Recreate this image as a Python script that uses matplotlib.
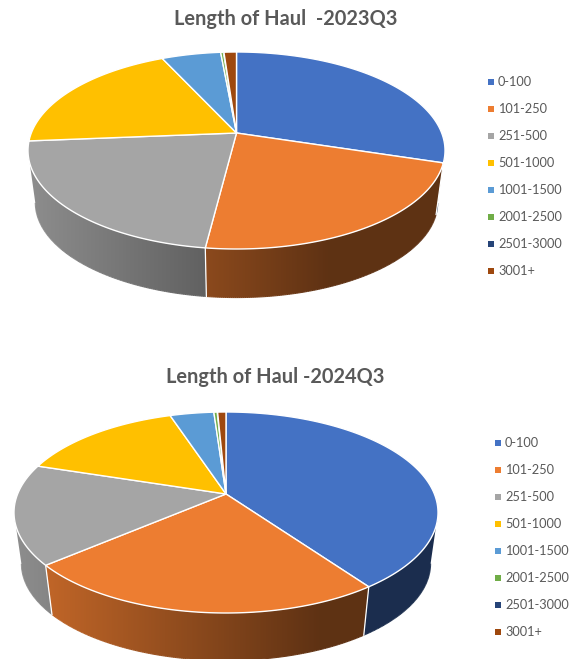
import numpy as np
import matplotlib
matplotlib.use('Agg')
import matplotlib.pyplot as plt
from matplotlib.collections import LineCollection
from matplotlib.colors import to_rgb
from matplotlib.patches import Polygon

plt.rcParams['font.family'] = ['Lato', 'DejaVu Sans']

labels = ['0-100', '101-250', '251-500', '501-1000', '1001-1500',
          '2001-2500', '2501-3000', '3001+']
colors = ['#4472c4', '#ed7d31', '#a5a5a5', '#ffc000', '#5b9bd5',
          '#70ad47', '#264478', '#9e480e']
share_2023 = [29.8, 22.2, 21.7, 19.4, 5.45, 0.25, 0.05, 1.15]
share_2024 = [40.1, 23.7, 16.1, 15.0, 4.0, 0.3, 0.04, 0.76]

W, H = 576, 659
TEXT = '#595959'


def rim(theta, cx, apex_y, a, top, front):
    # perspective view of a circle, theta runs clockwise from 12 o'clock
    back_r = apex_y - top
    front_r = front - apex_y
    k = (front_r / back_r - 1) / (front_r / back_r + 1)
    bb = back_r * (1 + k)
    aa = a * np.sqrt(1 - k ** 2)
    d = 1 + k * np.cos(theta)
    return cx + aa * np.sin(theta) / d, apex_y - bb * np.cos(theta) / d


def pie3d(ax, values, cx, apex_y, a, top, front, depth=52, shrink=0.965):
    edges = np.concatenate([[0], np.cumsum(values)]) / np.sum(values) * 2 * np.pi
    ey = (top + front) / 2
    left = cx - a

    def lower(x, y):
        return cx + (x - cx) * shrink, ey + depth + (y - ey) * shrink

    def shade(x):
        # wall gets darker towards the right, then stays flat
        return np.clip(0.86 - 0.46 * (x - left) / (0.72 * 2 * a), 0.4, 0.9)

    columns = np.arange(W) + 0.5
    for i, c in enumerate(colors):
        n = max(2, int((edges[i + 1] - edges[i]) * 120))
        th = np.linspace(edges[i], edges[i + 1], n)
        x, y = rim(th, cx, apex_y, a, top, front)
        # only the near half of the wall can be seen
        near = y >= ey
        if near.sum() < 2:
            continue
        x, y = x[near], y[near]
        xb, yb = lower(x, y)
        outline = np.vstack([np.column_stack([x, y]),
                             np.column_stack([xb, yb])[::-1]])
        grad = shade(columns)[None, :, None] * np.array(to_rgb(c))[None, None, :]
        img = ax.imshow(grad, extent=(0, W, H, 0), aspect='auto',
                        interpolation='nearest', zorder=1)
        img.set_clip_path(Polygon(outline, transform=ax.transData))
        # soft lower edge, the image clip alone is jagged
        segs = np.stack([np.column_stack([xb[:-1], yb[:-1]]),
                         np.column_stack([xb[1:], yb[1:]])], axis=1)
        tones = [shade(v) * np.array(to_rgb(c)) for v in (xb[:-1] + xb[1:]) / 2]
        ax.add_collection(LineCollection(segs, colors=tones, linewidths=0.8,
                                         zorder=1.5))

    # white seams on the wall where slices meet
    for th in edges[:-1]:
        x, y = rim(th, cx, apex_y, a, top, front)
        if y >= ey:
            xb, yb = lower(x, y)
            ax.plot([x, xb], [y, yb], color='white', lw=0.9, zorder=2)

    # top face
    for i, c in enumerate(colors):
        n = max(2, int((edges[i + 1] - edges[i]) * 120))
        th = np.linspace(edges[i], edges[i + 1], n)
        x, y = rim(th, cx, apex_y, a, top, front)
        pts = np.vstack([[cx, apex_y], np.column_stack([x, y])])
        lw = 1.0 if values[i] > 0.2 else 0.3
        ax.add_patch(Polygon(pts, closed=True, facecolor=c, edgecolor='white',
                             lw=lw, joinstyle='round', zorder=3))


def key(ax, x, y0, step=27.05):
    for i, (lab, c) in enumerate(zip(labels, colors)):
        y = y0 + i * step
        ax.scatter([x], [y], marker='s', s=14, color=c, linewidths=0, zorder=4)
        ax.text(x + 7, y, lab, color=TEXT, fontsize=9.2, va='center', ha='left')


fig = plt.figure(figsize=(W / 100, H / 100), dpi=100, facecolor='white')
ax = fig.add_axes([0, 0, 1, 1])

ax.text(286, 19, 'Length of Haul  -2023Q3', color=TEXT, fontsize=14.4,
        fontweight='bold', ha='center', va='center')
pie3d(ax, share_2023, 236.5, 133, 208.5, 52, 249)
key(ax, 491, 81.7)

ax.text(275, 377, 'Length of Haul -2024Q3', color=TEXT, fontsize=14.4,
        fontweight='bold', ha='center', va='center')
pie3d(ax, share_2024, 226, 494, 212, 412, 613, depth=51)
key(ax, 498, 443)

# imshow resets the limits, so set them last
ax.set_xlim(0, W)
ax.set_ylim(H, 0)
ax.axis('off')

fig.savefig('out.png', dpi=100)
